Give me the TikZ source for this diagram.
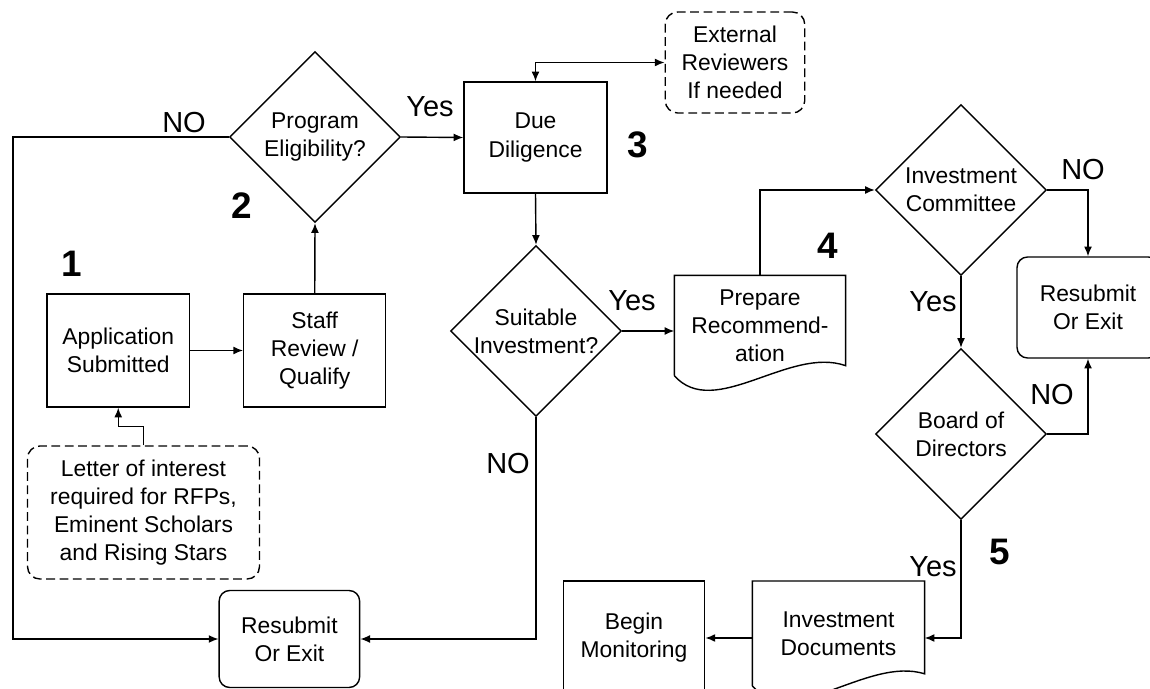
\documentclass[tikz,border=0pt]{standalone}
\usepackage{fontspec}
\setmainfont{Liberation Sans}
\usetikzlibrary{shapes.geometric,arrows.meta,calc}
\begin{document}
\begin{tikzpicture}[x=0.02cm,y=-0.02cm,
  line width=0.8pt,
  every node/.style={font=\fontsize{13}{16}\selectfont, align=center},
  boxnode/.style={draw, rectangle, inner sep=0pt},
  roundnode/.style={draw, rectangle, rounded corners=6pt, inner sep=0pt},
  dashnode/.style={draw, rectangle, rounded corners=7pt, dash pattern=on 5pt off 2.6pt, inner sep=0pt},
  decnode/.style={draw, diamond, inner sep=0pt, minimum width=3.42cm, minimum height=3.42cm},
  docnode/.style={rectangle, inner sep=0pt},
  lbl/.style={font=\fontsize{16.5}{19}\selectfont, inner sep=0pt},
  num/.style={font=\fontsize{21}{24}\selectfont\bfseries, inner sep=0pt},
  arr/.style={-{Latex[length=5.5pt,width=4.5pt]}},
  arrboth/.style={{Latex[length=5.5pt,width=4.5pt]}-{Latex[length=5.5pt,width=4.5pt]}},
]
\clip (0,0) rectangle (1150,689);
\useasboundingbox (0,0) rectangle (1150,689);

% boxes
\node[boxnode, minimum width=2.85cm, minimum height=2.26cm] (app) at (118.25,350.5) {Application\\Submitted};
\node[boxnode, minimum width=2.84cm, minimum height=2.26cm] (staff) at (314.75,350.5) {Staff\\Review /\\Qualify};
\node[boxnode, minimum width=2.86cm, minimum height=2.22cm] (due) at (535.5,137.5) {Due\\Diligence};
\node[dashnode, minimum width=2.79cm, minimum height=2.02cm] (ext) at (735,62.5) {External\\Reviewers\\If needed};
\node[dashnode, minimum width=4.64cm, minimum height=2.66cm] (letter) at (143.5,512.5) {Letter of interest\\required for RFPs,\\Eminent Scholars\\and Rising Stars};
\node[roundnode, minimum width=2.81cm, minimum height=1.94cm] (resL) at (289.4,639) {Resubmit\\Or Exit};
\node[roundnode, minimum width=2.84cm, minimum height=2.02cm] (resR) at (1088,307.5) {Resubmit\\Or Exit};
\node[boxnode, minimum width=2.83cm, minimum height=2.28cm] (begin) at (634,638) {Begin\\Monitoring};

% diamonds
\node[decnode] (prog) at (315,137) {Program\\Eligibility?};
\node[decnode] (suit) at (536,331) {Suitable\\Investment?};
\node[decnode] (icom) at (961,190) {Investment\\Committee};
\node[decnode] (board) at (961,434) {Board of\\Directors};

% document shapes
\node[docnode, minimum width=3.4cm, minimum height=1.98cm] (prep) at (760,325.5) {Prepare\\Recommend-\\ation};
\draw (prep.south west) -- (prep.north west) -- (prep.north east) -- ($(prep.south east)+(0,-10)$)
  .. controls ($(prep.south west)+(115,-30)$) and ($(prep.south west)+(40,45)$) .. (prep.south west);
\node[docnode, minimum width=3.42cm, minimum height=2.07cm] (invdoc) at (838.5,633.4) {Investment\\Documents};
\draw (invdoc.south west) -- (invdoc.north west) -- (invdoc.north east) -- ($(invdoc.south east)+(0,-12)$)
  .. controls ($(invdoc.south west)+(115,-30)$) and ($(invdoc.south west)+(40,45)$) .. (invdoc.south west);

% connectors
\coordinate (nl) at (13,137);
\draw[arr] (app) -- (staff);
\draw[arr] (staff.north) -- (prog.south);
\draw[arr] (prog.east) -- (due.west);
\draw[arr] (prog.west) -- (nl) |- (resL.west);
\draw[arrboth] (due.north) |- (ext.west);
\draw[arr] (due.south) -- (suit.north);
\draw[arr] (suit.east) -- (suit.east -| prep.west);
\draw[arr] (suit.south) |- (resL.east);
\draw[arr] (prep.north) |- (icom.west);
\draw[arr] (icom.east) -| (resR.north);
\draw[arr] (icom.south) -- (board.north);
\draw[arr] (board.east) -| (resR.south);
\draw[arr] (board.south) |- (begin.east -| invdoc.east);
\draw[arr] (invdoc.west |- begin.east) -- (begin.east);
\draw[arr] (letter.north) -- ++(0,-19) -| (app.south);

% labels
\node[lbl] (lno1) at (184,123) {NO};
\node[lbl] (lyes1) at (430,107) {Yes};
\node[lbl] (lyes2) at (632,301) {Yes};
\node[lbl] (lno2) at (508,464) {NO};
\node[lbl] (lno3) at (1083,170) {NO};
\node[lbl] (lyes3) at (933,302) {Yes};
\node[lbl] (lno4) at (1052,395) {NO};
\node[lbl] (lyes4) at (933,567) {Yes};
\node[num] (n1) at (72,264) {1};
\node[num] (n2) at (242,206) {2};
\node[num] (n3) at (638,145) {3};
\node[num] (n4) at (828,246) {4};
\node[num] (n5) at (1000,552) {5};
\end{tikzpicture}
\end{document}
